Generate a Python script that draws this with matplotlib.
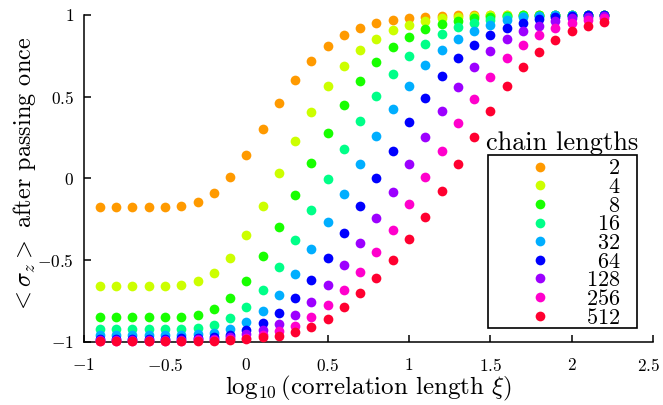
import numpy as np
import matplotlib
matplotlib.use("Agg")
import matplotlib.pyplot as plt
from matplotlib.patches import Rectangle
from matplotlib.transforms import ScaledTranslation

# ---------------- data ----------------
log_xi = [round(-0.9 + 0.1 * i, 1) for i in range(32)]

chain_lengths = ["2", "4", "8", "16", "32", "64", "128", "256", "512"]

sz_2 = [-0.178, -0.178, -0.178, -0.178, -0.178, -0.171, -0.147, -0.090, 0.008, 0.143,
        0.300, 0.459, 0.602, 0.720, 0.810, 0.876, 0.918, 0.949, 0.969, 0.980,
        0.990, 0.995, 0.997, 0.998, 0.999, 1.0, 1.0, 1.0, 1.0, 1.0, 1.0, 1.0]
sz_4 = [-0.660, -0.660, -0.660, -0.660, -0.660, -0.653, -0.631, -0.580, -0.486, -0.345,
        -0.168, 0.032, 0.230, 0.408, 0.563, 0.690, 0.786, 0.855, 0.906, 0.939,
        0.965, 0.980, 0.990, 0.995, 0.997, 0.998, 0.999, 1.0, 1.0, 1.0, 1.0, 1.0]
sz_8 = [-0.851, -0.851, -0.851, -0.851, -0.851, -0.847, -0.835, -0.798, -0.733, -0.627,
        -0.478, -0.296, -0.102, 0.094, 0.279, 0.449, 0.594, 0.710, 0.802, 0.865,
        0.912, 0.943, 0.965, 0.980, 0.990, 0.995, 0.997, 0.998, 0.999, 1.0, 1.0, 1.0]
sz_16 = [-0.925, -0.925, -0.925, -0.925, -0.925, -0.923, -0.915, -0.898, -0.858, -0.787,
         -0.682, -0.542, -0.378, -0.196, -0.005, 0.178, 0.349, 0.504, 0.639, 0.746,
         0.824, 0.884, 0.925, 0.953, 0.971, 0.985, 0.992, 0.996, 0.998, 0.999, 1.0, 1.0]
sz_32 = [-0.962, -0.962, -0.962, -0.962, -0.962, -0.960, -0.955, -0.945, -0.920, -0.878,
         -0.813, -0.716, -0.586, -0.435, -0.270, -0.094, 0.086, 0.259, 0.422, 0.567,
         0.692, 0.784, 0.855, 0.904, 0.939, 0.970, 0.985, 0.993, 0.997, 0.999, 1.0, 1.0]
sz_64 = [-0.981, -0.981, -0.981, -0.981, -0.981, -0.980, -0.977, -0.972, -0.960, -0.929,
         -0.888, -0.827, -0.735, -0.621, -0.488, -0.333, -0.170, 0.000, 0.169, 0.343,
         0.494, 0.627, 0.735, 0.818, 0.879, 0.922, 0.953, 0.975, 0.987, 0.993, 0.997, 0.999]
sz_128 = [-0.990, -0.990, -0.990, -0.990, -0.990, -0.989, -0.986, -0.982, -0.972, -0.955,
          -0.929, -0.894, -0.839, -0.755, -0.653, -0.531, -0.394, -0.245, -0.083, 0.086,
          0.253, 0.412, 0.561, 0.684, 0.780, 0.852, 0.902, 0.934, 0.963, 0.980, 0.990, 0.995]
sz_256 = [-0.995, -0.995, -0.995, -0.995, -0.995, -0.994, -0.992, -0.990, -0.985, -0.975,
          -0.960, -0.935, -0.903, -0.849, -0.776, -0.682, -0.574, -0.449, -0.314, -0.159,
          0.010, 0.169, 0.338, 0.488, 0.622, 0.735, 0.816, 0.878, 0.922, 0.949, 0.971, 0.983]
sz_512 = [-0.998, -0.998, -0.998, -0.998, -0.998, -0.997, -0.996, -0.994, -0.990, -0.983,
          -0.974, -0.963, -0.942, -0.909, -0.860, -0.790, -0.704, -0.609, -0.498, -0.374,
          -0.235, -0.080, 0.086, 0.253, 0.412, 0.565, 0.680, 0.775, 0.849, 0.902, 0.934, 0.959]

series = [sz_2, sz_4, sz_8, sz_16, sz_32, sz_64, sz_128, sz_256, sz_512]
colors = ["#FF9A00", "#CCFF00", "#18FF00", "#00FF88", "#00AEFF",
          "#0000FF", "#9C00FF", "#FF00CC", "#FF0030"]

x_ticks = [-1, -0.5, 0, 0.5, 1, 1.5, 2, 2.5]
x_ticklabels = [r"$-1$", r"$-0.5$", r"$0$", r"$0.5$", r"$1$", r"$1.5$", r"$2$", r"$2.5$"]
y_ticks = [-1, -0.5, 0, 0.5, 1]
y_ticklabels = [r"$-1$", r"$-0.5$", r"$0$", r"$0.5$", r"$1$"]

# ---------------- style ----------------
plt.rcParams["font.family"] = ["cmr10"]
plt.rcParams["mathtext.fontset"] = "cm"
plt.rcParams["axes.unicode_minus"] = False

fig = plt.figure(figsize=(6.63, 4.05), dpi=100)
ax = fig.add_axes([0.1262, 0.1565, 0.8588, 0.8065])

for vals, c in zip(series, colors):
    ax.plot(log_xi, vals, linestyle="none", marker="o", markersize=7.0,
            markerfacecolor=c, markeredgecolor="none", clip_on=False, zorder=3)

ax.set_xlim(-1, 2.5)
ax.set_ylim(-1, 1)
ax.set_xticks(x_ticks)
ax.set_xticklabels(x_ticklabels, fontsize=12.5)
ax.set_yticks(y_ticks)
ax.set_yticklabels(y_ticklabels, fontsize=12.5)
ax.tick_params(axis="both", direction="in", length=5, width=1.1, color="black")
ax.tick_params(axis="x", pad=11)
ax.tick_params(axis="y", pad=7)
for s in ["top", "right"]:
    ax.spines[s].set_visible(False)
for s in ["left", "bottom"]:
    ax.spines[s].set_linewidth(1.1)
# nudge the rightmost tick label a little so it stays inside the canvas
last = ax.get_xticklabels()[-1]
last.set_transform(last.get_transform() + ScaledTranslation(-3 / 72, 0, fig.dpi_scale_trans))

ax.set_xlabel(r"$\log_{10}$(correlation length $\xi$)", fontsize=18)
ax.xaxis.set_label_coords(0.5, -0.1)
ax.set_ylabel(r"$<\sigma_z>$ after passing once", fontsize=17.5)
ax.yaxis.set_label_coords(-0.08, 0.51)

# ---------------- legend (drawn manually to match layout) ----------------
box_x0, box_x1 = 0.7096, 0.9724
box_y0, box_y1 = 0.0416, 0.5713
ax.add_patch(Rectangle((box_x0, box_y0), box_x1 - box_x0, box_y1 - box_y0,
                       transform=ax.transAxes, facecolor="white",
                       edgecolor="black", linewidth=1.2, zorder=4, clip_on=False))
ax.text((box_x0 + box_x1) / 2, 0.607, "chain lengths", transform=ax.transAxes,
        ha="center", va="center", fontsize=19, zorder=5)
row_top, row_step = 0.5355, 0.05703
for i, (lab, c) in enumerate(zip(chain_lengths, colors)):
    yy = row_top - i * row_step
    ax.plot([0.8015], [yy], transform=ax.transAxes, linestyle="none", marker="o",
            markersize=7.0, markerfacecolor=c, markeredgecolor="none",
            clip_on=False, zorder=5)
    ax.text(0.9424, yy, "$" + lab + "$", transform=ax.transAxes, ha="right",
            va="center_baseline", fontsize=16, zorder=5)

fig.savefig("out.png", dpi=100)
